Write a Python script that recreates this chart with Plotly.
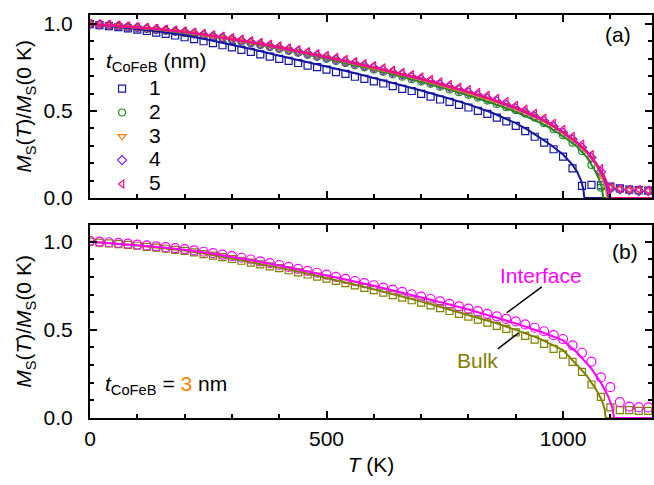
import plotly.graph_objects as go

FONT = "Liberation Sans"

# ---------------- data: panel (a), markers every 20 K from 0 K ----------------
STEP = 20
m1 = [1.000, 0.994, 0.988, 0.982, 0.975, 0.968, 0.960, 0.951, 0.943, 0.934, 0.924, 0.913, 0.901, 0.890, 0.878,
      0.866, 0.852, 0.840, 0.826, 0.813, 0.800, 0.788, 0.776, 0.761, 0.752, 0.738, 0.724, 0.713, 0.697, 0.685,
      0.670, 0.658, 0.643, 0.627, 0.615, 0.598, 0.583, 0.566, 0.552, 0.535, 0.520, 0.501, 0.484, 0.462, 0.440,
      0.414, 0.384, 0.352, 0.318, 0.280, 0.238, 0.170, 0.070, 0.075, 0.072, 0.065, 0.055, 0.048, 0.045, 0.042, 0.040]
m2 = [1.000, 0.996, 0.991, 0.987, 0.982, 0.977, 0.972, 0.966, 0.961, 0.955, 0.949, 0.941, 0.934, 0.926, 0.918,
      0.909, 0.899, 0.889, 0.879, 0.868, 0.857, 0.846, 0.835, 0.823, 0.812, 0.800, 0.788, 0.776, 0.763, 0.751,
      0.738, 0.725, 0.711, 0.697, 0.683, 0.670, 0.656, 0.640, 0.624, 0.608, 0.593, 0.577, 0.560, 0.540, 0.522,
      0.505, 0.486, 0.462, 0.430, 0.395, 0.360, 0.318, 0.270, 0.190, 0.060, 0.055, 0.050, 0.045, 0.040, 0.040, 0.035]
m3 = [1.000, 0.996, 0.992, 0.988, 0.983, 0.979, 0.974, 0.969, 0.964, 0.958, 0.953, 0.945, 0.937, 0.929, 0.921,
      0.913, 0.903, 0.893, 0.883, 0.872, 0.862, 0.851, 0.840, 0.828, 0.817, 0.806, 0.794, 0.782, 0.770, 0.757,
      0.745, 0.732, 0.719, 0.705, 0.692, 0.678, 0.663, 0.648, 0.633, 0.617, 0.602, 0.585, 0.567, 0.549, 0.530,
      0.510, 0.488, 0.464, 0.437, 0.406, 0.372, 0.332, 0.285, 0.225, 0.130, 0.060, 0.050, 0.045, 0.045, 0.040, 0.040]
m4 = [1.000, 0.997, 0.993, 0.989, 0.984, 0.980, 0.975, 0.970, 0.965, 0.959, 0.954, 0.946, 0.938, 0.930, 0.922,
      0.914, 0.905, 0.895, 0.885, 0.874, 0.864, 0.853, 0.842, 0.831, 0.819, 0.808, 0.796, 0.784, 0.772, 0.760,
      0.748, 0.735, 0.722, 0.709, 0.695, 0.682, 0.667, 0.652, 0.637, 0.622, 0.607, 0.590, 0.573, 0.555, 0.535,
      0.515, 0.493, 0.469, 0.442, 0.411, 0.376, 0.337, 0.290, 0.232, 0.150, 0.055, 0.050, 0.045, 0.040, 0.040, 0.035]
m5 = [1.005, 1.001, 0.998, 0.994, 0.990, 0.985, 0.981, 0.976, 0.971, 0.966, 0.961, 0.954, 0.947, 0.939, 0.931,
      0.923, 0.914, 0.905, 0.895, 0.885, 0.875, 0.864, 0.853, 0.842, 0.831, 0.820, 0.809, 0.797, 0.785, 0.773,
      0.761, 0.749, 0.736, 0.723, 0.710, 0.697, 0.683, 0.668, 0.653, 0.638, 0.623, 0.607, 0.590, 0.573, 0.554,
      0.533, 0.511, 0.487, 0.460, 0.430, 0.395, 0.355, 0.310, 0.250, 0.170, 0.065, 0.055, 0.050, 0.050, 0.045, 0.045]

# fitted curves, panel (a)
l1_T = [0, 50, 100, 150, 200, 250, 300, 350, 400, 450, 500, 550, 600, 650, 700, 750, 800, 850, 900, 925, 950, 975,
        1000, 1020, 1030, 1038, 1043, 1045, 1200]
l1_M = [1.0, 0.987, 0.972, 0.955, 0.935, 0.91, 0.882, 0.851, 0.818, 0.788, 0.757, 0.724, 0.69, 0.655, 0.618, 0.579,
        0.538, 0.49, 0.43, 0.393, 0.35, 0.303, 0.25, 0.19, 0.15, 0.10, 0.05, 0.0, 0.0]
l2_T = [0, 50, 100, 150, 200, 250, 300, 350, 400, 450, 500, 550, 600, 650, 700, 750, 800, 850, 900, 950, 975,
        1000, 1030, 1050, 1065, 1075, 1082, 1085, 1200]
l2_M = [1.0, 0.99, 0.978, 0.965, 0.95, 0.931, 0.91, 0.885, 0.858, 0.83, 0.80, 0.77, 0.738, 0.704, 0.668, 0.63,
        0.59, 0.545, 0.495, 0.435, 0.398, 0.355, 0.295, 0.235, 0.17, 0.115, 0.06, 0.0, 0.0]
l3_T = [0, 50, 100, 150, 200, 250, 300, 350, 400, 450, 500, 550, 600, 650, 700, 750, 800, 850, 900, 950, 975,
        1000, 1030, 1050, 1070, 1082, 1090, 1093, 1200]
l3_M = [1.0, 0.99, 0.979, 0.967, 0.953, 0.934, 0.913, 0.888, 0.862, 0.834, 0.806, 0.776, 0.745, 0.712, 0.678,
        0.641, 0.602, 0.558, 0.51, 0.452, 0.416, 0.372, 0.31, 0.26, 0.19, 0.12, 0.06, 0.0, 0.0]
l4_T = [0, 50, 100, 150, 200, 250, 300, 350, 400, 450, 500, 550, 600, 650, 700, 750, 800, 850, 900, 950, 975,
        1000, 1030, 1050, 1070, 1085, 1093, 1096, 1200]
l4_M = [1.0, 0.991, 0.98, 0.968, 0.954, 0.935, 0.914, 0.89, 0.864, 0.837, 0.808, 0.779, 0.748, 0.716, 0.682,
        0.645, 0.607, 0.564, 0.515, 0.457, 0.42, 0.376, 0.315, 0.265, 0.195, 0.12, 0.06, 0.0, 0.0]
l5_T = [0, 50, 100, 150, 200, 250, 300, 350, 400, 450, 500, 550, 600, 650, 700, 750, 800, 850, 900, 950, 975,
        1000, 1030, 1050, 1070, 1088, 1097, 1100, 1200]
l5_M = [1.0, 0.991, 0.98, 0.968, 0.955, 0.936, 0.915, 0.891, 0.866, 0.839, 0.81, 0.781, 0.75, 0.718, 0.685,
        0.648, 0.61, 0.567, 0.52, 0.462, 0.425, 0.38, 0.32, 0.27, 0.20, 0.12, 0.06, 0.0, 0.0]

# ---------------- data: panel (b), t = 3 nm ----------------
mi = [1.005, 1.001, 0.997, 0.993, 0.989, 0.984, 0.979, 0.974, 0.969, 0.964, 0.958, 0.951, 0.943, 0.935, 0.927,
      0.918, 0.909, 0.899, 0.889, 0.879, 0.868, 0.857, 0.846, 0.835, 0.824, 0.813, 0.801, 0.789, 0.777, 0.765,
      0.753, 0.740, 0.728, 0.715, 0.702, 0.689, 0.675, 0.661, 0.647, 0.633, 0.620, 0.606, 0.591, 0.577, 0.562,
      0.548, 0.531, 0.512, 0.492, 0.470, 0.448, 0.412, 0.370, 0.320, 0.230, 0.175, 0.090, 0.065, 0.060, 0.060, 0.055]
mb = [1.000, 0.995, 0.991, 0.986, 0.982, 0.977, 0.971, 0.966, 0.960, 0.954, 0.948, 0.939, 0.930, 0.921, 0.912,
      0.902, 0.892, 0.881, 0.871, 0.860, 0.850, 0.838, 0.826, 0.814, 0.802, 0.791, 0.778, 0.765, 0.752, 0.738,
      0.725, 0.711, 0.697, 0.683, 0.668, 0.654, 0.639, 0.623, 0.607, 0.591, 0.575, 0.558, 0.541, 0.523, 0.505,
      0.486, 0.466, 0.444, 0.420, 0.392, 0.360, 0.318, 0.262, 0.190, 0.120, 0.060, 0.045, 0.045, 0.040, 0.040, 0.040]
li_T = [0, 50, 100, 150, 200, 250, 300, 350, 400, 450, 500, 550, 600, 650, 700, 750, 800, 850, 900, 950,
        1000, 1030, 1060, 1080, 1095, 1104, 1108, 1200]
li_M = [1.0, 0.991, 0.98, 0.968, 0.955, 0.936, 0.915, 0.891, 0.865, 0.838, 0.81, 0.78, 0.75, 0.718, 0.685,
        0.651, 0.615, 0.577, 0.537, 0.492, 0.44, 0.37, 0.28, 0.2, 0.125, 0.06, 0.0, 0.0]
lb_T = [0, 50, 100, 150, 200, 250, 300, 350, 400, 450, 500, 550, 600, 650, 700, 750, 800, 850, 900, 950,
        1000, 1030, 1050, 1070, 1082, 1088, 1090, 1200]
lb_M = [1.0, 0.99, 0.978, 0.965, 0.95, 0.929, 0.905, 0.88, 0.853, 0.825, 0.795, 0.763, 0.73, 0.696, 0.66,
        0.623, 0.585, 0.545, 0.5, 0.45, 0.385, 0.3, 0.24, 0.16, 0.1, 0.05, 0.0, 0.0]

thick_labels = ["1", "2", "3", "4", "5"]
colors_a = ["#1414A0", "#1E8C1E", "#FF8000", "#8A1CF0", "#FF0A84"]
symbols_a = ["square-open", "circle-open", "triangle-down-open", "diamond-open", "triangle-left-open"]
col_int = "#FF00FF"
col_bulk = "#808000"


def tgrid(vals):
    return [STEP * i for i in range(len(vals))]


fig = go.Figure()

marker_sets = [m1, m2, m3, m4, m5]
line_sets = [(l1_T, l1_M), (l2_T, l2_M), (l3_T, l3_M), (l4_T, l4_M), (l5_T, l5_M)]
for vals, lab, c, s in zip(marker_sets, thick_labels, colors_a, symbols_a):
    fig.add_trace(go.Scatter(x=tgrid(vals), y=vals, mode="markers",
                             name="<span style='font-size:21px'>%s</span>" % lab,
                             marker=dict(symbol=s, size=7, color=c, line=dict(width=1.2, color=c)),
                             xaxis="x", yaxis="y"))
for (lt, lm), c in zip(line_sets, colors_a):
    fig.add_trace(go.Scatter(x=lt, y=lm, mode="lines", showlegend=False,
                             line=dict(color=c, width=2), xaxis="x", yaxis="y"))

fig.add_trace(go.Scatter(x=tgrid(mb), y=mb, mode="markers", showlegend=False,
                         marker=dict(symbol="square-open", size=7, color=col_bulk, line=dict(width=1.2, color=col_bulk)),
                         xaxis="x2", yaxis="y2"))
fig.add_trace(go.Scatter(x=tgrid(mi), y=mi, mode="markers", showlegend=False,
                         marker=dict(symbol="circle-open", size=9, color=col_int, line=dict(width=1.2, color=col_int)),
                         xaxis="x2", yaxis="y2"))
fig.add_trace(go.Scatter(x=lb_T, y=lb_M, mode="lines", showlegend=False,
                         line=dict(color=col_bulk, width=2), xaxis="x2", yaxis="y2"))
fig.add_trace(go.Scatter(x=li_T, y=li_M, mode="lines", showlegend=False,
                         line=dict(color=col_int, width=2), xaxis="x2", yaxis="y2"))

tickfont = dict(family=FONT, size=21, color="black")


def ax(**kw):
    d = dict(showline=True, linewidth=2, linecolor="black", mirror="ticks", ticks="inside",
             ticklen=7, tickwidth=1.5, tickcolor="black", showgrid=False, zeroline=False,
             tickfont=tickfont, automargin=False)
    d.update(kw)
    return d


XR = [0, 1188]
ytitle = "<i>M</i><sub>S</sub>(<i>T</i>)/<i>M</i><sub>S</sub>(0 K)"
minor_x = dict(ticks="inside", ticklen=4, tickwidth=1.5, tickcolor="black", dtick=100)
minor_y = dict(ticks="inside", ticklen=4, tickwidth=1.5, tickcolor="black", dtick=0.1)
fig.update_layout(
    width=654, height=485,
    margin=dict(l=90, r=2, t=15, b=67),
    paper_bgcolor="white", plot_bgcolor="white",
    font=dict(family=FONT, size=20, color="black"),
    xaxis=ax(range=XR, anchor="y", domain=[0, 1], tick0=0, dtick=500, showticklabels=False, minor=minor_x),
    xaxis2=ax(range=XR, anchor="y2", domain=[0, 1], tick0=0, dtick=500, ticklabelstandoff=1, minor=minor_x,
              title=dict(text="<i>T</i> (K)", font=dict(family=FONT, size=21), standoff=8)),
    yaxis=ax(range=[0, 1.052], domain=[0.546, 1.0], anchor="x", tick0=0, dtick=0.5, tickformat=".1f",
             ticklabelstandoff=11, minor=minor_y,
             title=dict(text=ytitle, font=dict(family=FONT, size=21), standoff=6)),
    yaxis2=ax(range=[0, 1.095], domain=[0.0, 0.479], anchor="x2", tick0=0, dtick=0.5, tickformat=".1f",
              ticklabelstandoff=11, minor=minor_y,
              title=dict(text=ytitle, font=dict(family=FONT, size=21), standoff=6)),
    legend=dict(x=0.009, y=0.859, xanchor="left", yanchor="top", bgcolor="rgba(0,0,0,0)",
                font=dict(family=FONT, size=16), itemwidth=44, tracegroupgap=0),
    showlegend=True,
)

ann_font = dict(family=FONT, size=21, color="black")
fig.add_annotation(text="<i>t</i><sub>CoFeB</sub> (nm)", xref="paper", yref="paper", x=0.025, y=0.883,
                   showarrow=False, font=ann_font, xanchor="left", yanchor="middle")
fig.add_annotation(text="(a)", xref="x", yref="y", x=1117, y=0.94, showarrow=False, font=ann_font,
                   xanchor="center", yanchor="middle")
fig.add_annotation(text="(b)", xref="x2", yref="y2", x=1130, y=0.943, showarrow=False, font=ann_font,
                   xanchor="center", yanchor="middle")
fig.add_annotation(text="Interface", xref="x2", yref="y2", x=953, y=0.807, showarrow=False,
                   font=dict(family=FONT, size=21, color=col_int), xanchor="center", yanchor="middle")
fig.add_annotation(text="Bulk", xref="x2", yref="y2", x=819, y=0.324, showarrow=False,
                   font=dict(family=FONT, size=21, color=col_bulk), xanchor="center", yanchor="middle")
fig.add_annotation(text="<i>t</i><sub>CoFeB</sub> = <span style='color:#FF8000'>3</span> nm",
                   xref="x2", yref="y2", x=27, y=0.19, showarrow=False, font=ann_font,
                   xanchor="left", yanchor="middle")

fig.add_shape(type="line", xref="x2", yref="y2", x0=955, y0=0.744, x1=881, y1=0.597,
              line=dict(color="black", width=1.5))
fig.add_shape(type="line", xref="x2", yref="y2", x0=906, y0=0.483, x1=862, y1=0.392,
              line=dict(color="black", width=1.5))

fig.write_html("out.html", config={"displayModeBar": False},
               post_script="document.body.style.margin='0px';")
